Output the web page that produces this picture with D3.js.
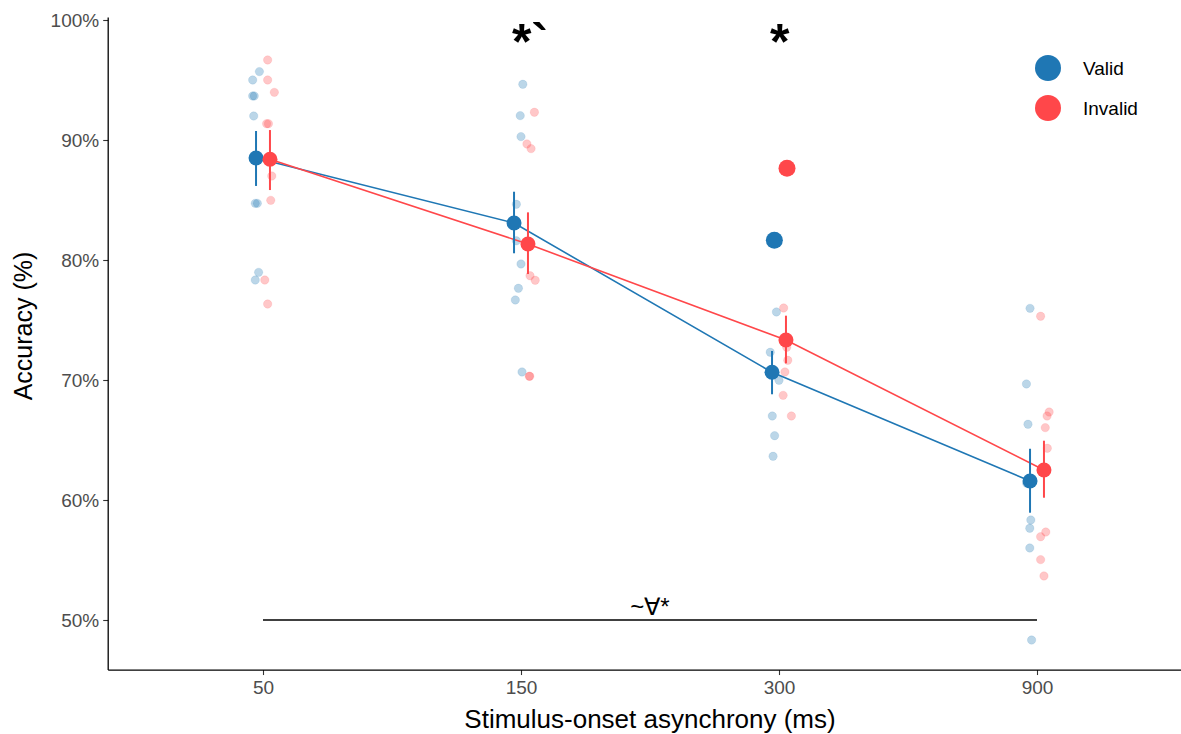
<!DOCTYPE html>
<html><head><meta charset="utf-8">
<script src="https://cdn.jsdelivr.net/npm/d3@7"></script>
<style>body{margin:0;background:#fff}svg{display:block}text{font-family:"Liberation Sans",Arial,sans-serif}</style>
</head><body><svg id="c" width="1181" height="734"></svg>
<script>
// ---- data ----
const categories = ["50", "150", "300", "900"];
const yTicks = [50, 60, 70, 80, 90, 100];
const seriesNames = ["Valid", "Invalid"];
const validMean = [88.5, 83.08, 70.64, 61.58];
const invalidMean = [88.4, 81.33, 73.33, 62.5];
const validLow = [86.17, 80.56, 68.81, 58.94];
const validHigh = [90.75, 85.69, 72.42, 64.27];
const invalidLow = [85.83, 78.83, 71.39, 60.19];
const invalidHigh = [90.83, 83.97, 75.36, 64.94];
// individual participant values; jitter as % of category step
const validPoints = [
  ["50",95.7,-1.4],["50",95.0,-4.0],["50",93.67,-4.0],["50",93.67,-3.4],["50",92.0,-3.6],["50",84.72,-3.0],["50",84.72,-2.2],["50",78.97,-1.7],["50",78.33,-3.0],
  ["150",94.64,0.7],["150",92.03,-0.3],["150",90.28,0],["150",84.64,-1.8],["150",81.6,-1.8],["150",79.67,0],["150",77.64,-1.0],["150",76.67,-2.2],["150",70.67,0.4],
  ["300",75.67,-1.0],["300",72.31,-3.4],["300",69.97,0],["300",67.0,-2.6],["300",65.36,-1.7],["300",63.64,-2.3],
  ["900",75.97,-2.7],["900",69.67,-4.1],["900",66.31,-3.5],["900",61.39,-4.0],["900",58.33,-2.4],["900",57.64,-2.8],["900",56.0,-2.8],["900",48.33,-2.1]
];
const invalidPoints = [
  ["50",96.67,1.8],["50",95.0,1.8],["50",93.97,4.4],["50",91.36,1.4],["50",91.36,2.1],["50",87.0,3.4],["50",84.97,3.0],["50",78.33,0.7],["50",76.33,1.8],
  ["150",92.31,5.2],["150",89.67,2.3],["150",89.28,3.9],["150",78.69,3.5],["150",78.31,5.5],["150",70.31,3.2],["150",70.31,3.4],
  ["300",76.0,1.8],["300",72.72,3.0],["300",71.64,3.4],["300",70.67,2.3],["300",68.72,1.6],["300",67.0,4.8],
  ["900",75.31,1.4],["900",67.33,4.7],["900",67.0,3.9],["900",66.03,3.2],["900",64.31,4.0],["900",57.33,3.4],["900",56.94,1.4],["900",55.03,1.4],["900",53.67,2.7]
];
// large extra points at 300 ms
const extraPoints = [["Valid","300",81.64,-1.8],["Invalid","300",87.64,3.1]];
const sigTop = [["150","*`"],["300","*"]];
const bracket = {from:"50", to:"900", y:50, label:"~\u2200*"};
const colors = {Valid:"#1f77b4", Invalid:"#ff474a"};
const dodge = 2.7; // % of category step

// ---- scales ----
const svg = d3.select("#c");
const x = d3.scalePoint().domain(categories).range([263, 1037]);
const step = x.step();
const jx = (c, j) => x(c) + j * step / 100;
const y = d3.scaleLinear().domain([50, 100]).range([620, 20]);
const yMin = 45.83, yMax = 100.2;
const xLeft = x(categories[0]) - 0.6 * step, xRight = x(categories[3]) + 0.6 * step;

// axes
const gy = svg.append("g").attr("transform", `translate(${xLeft},0)`)
  .call(d3.axisLeft(y).tickValues(yTicks).tickFormat(d => d + "%").tickSize(5).tickPadding(4));
gy.select(".domain").remove();
gy.selectAll(".tick line").attr("stroke", "#333").attr("stroke-width", 1.1);
gy.selectAll(".tick text").attr("fill", "#4d4d4d").style("font-size", "19px");
svg.append("line").attr("x1", xLeft).attr("x2", xLeft).attr("y1", y(yMax)).attr("y2", y(yMin)).attr("stroke", "#000").attr("stroke-width", 1.3);

const gx = svg.append("g").attr("transform", `translate(0,${y(yMin)})`)
  .call(d3.axisBottom(x).tickSize(5).tickPadding(5));
gx.select(".domain").remove();
gx.selectAll(".tick line").attr("stroke", "#333").attr("stroke-width", 1.1);
gx.selectAll(".tick text").attr("fill", "#4d4d4d").style("font-size", "19px");
svg.append("line").attr("x1", xLeft).attr("x2", xRight).attr("y1", y(yMin)).attr("y2", y(yMin)).attr("stroke", "#000").attr("stroke-width", 1.3);

svg.append("text").attr("x", 650).attr("y", 728).attr("text-anchor", "middle").style("font-size", "26px").attr("fill", "#000").text("Stimulus-onset asynchrony (ms)");
svg.append("text").attr("transform", "translate(32,326) rotate(-90)").attr("text-anchor", "middle").style("font-size", "25px").attr("fill", "#000").text("Accuracy (%)");

// individual points
const plot = svg.append("g");
function pts(data, name) {
  plot.selectAll(null).data(data).enter().append("circle")
    .attr("cx", d => jx(d[0], d[2])).attr("cy", d => y(d[1])).attr("r", 4.2)
    .attr("fill", colors[name]).attr("fill-opacity", 0.3)
    .attr("stroke", colors[name]).attr("stroke-opacity", 0.15).attr("stroke-width", 0.8);
}
pts(validPoints, "Valid");
pts(invalidPoints, "Invalid");

// lines
const series = [
  {name:"Valid", mean:validMean, lo:validLow, hi:validHigh, off:-dodge},
  {name:"Invalid", mean:invalidMean, lo:invalidLow, hi:invalidHigh, off:dodge}
];
series.forEach(s => {
  const line = d3.line().x((d, i) => jx(categories[i], s.off)).y(d => y(d));
  plot.append("path").attr("d", line(s.mean)).attr("fill", "none").attr("stroke", colors[s.name]).attr("stroke-width", 1.6);
});
series.forEach(s => {
  categories.forEach((c, i) => {
    plot.append("line").attr("x1", jx(c, s.off)).attr("x2", jx(c, s.off))
      .attr("y1", y(s.lo[i])).attr("y2", y(s.hi[i])).attr("stroke", colors[s.name]).attr("stroke-width", 2);
  });
  plot.selectAll(null).data(s.mean).enter().append("circle")
    .attr("cx", (d, i) => jx(categories[i], s.off)).attr("cy", d => y(d)).attr("r", 7.5)
    .attr("fill", colors[s.name]);
});
plot.selectAll(null).data(extraPoints).enter().append("circle")
  .attr("cx", d => jx(d[1], d[3])).attr("cy", d => y(d[2])).attr("r", 8.5).attr("fill", d => colors[d[0]]);

// significance
svg.selectAll(null).data(sigTop).enter().append("text")
  .attr("x", d => x(d[0]) - 9).attr("y", 59).attr("text-anchor", "start")
  .style("font-size", "50px").style("font-weight", "bold").attr("fill", "#000").text(d => d[1]);
svg.append("line").attr("x1", x(bracket.from)).attr("x2", x(bracket.to)).attr("y1", y(bracket.y)).attr("y2", y(bracket.y)).attr("stroke", "#000").attr("stroke-width", 1.5);
svg.append("text").attr("x", 650).attr("y", 615).attr("text-anchor", "middle").style("font-size", "24px").attr("fill", "#000").text(bracket.label);

// legend
const lg = svg.append("g");
seriesNames.forEach((n, i) => {
  lg.append("circle").attr("cx", 1048).attr("cy", 68 + i * 40).attr("r", 13).attr("fill", colors[n]);
  lg.append("text").attr("x", 1083).attr("y", 68 + i * 40).attr("dy", "0.35em").style("font-size", "19px").attr("fill", "#000").text(n);
});
</script></body></html>
